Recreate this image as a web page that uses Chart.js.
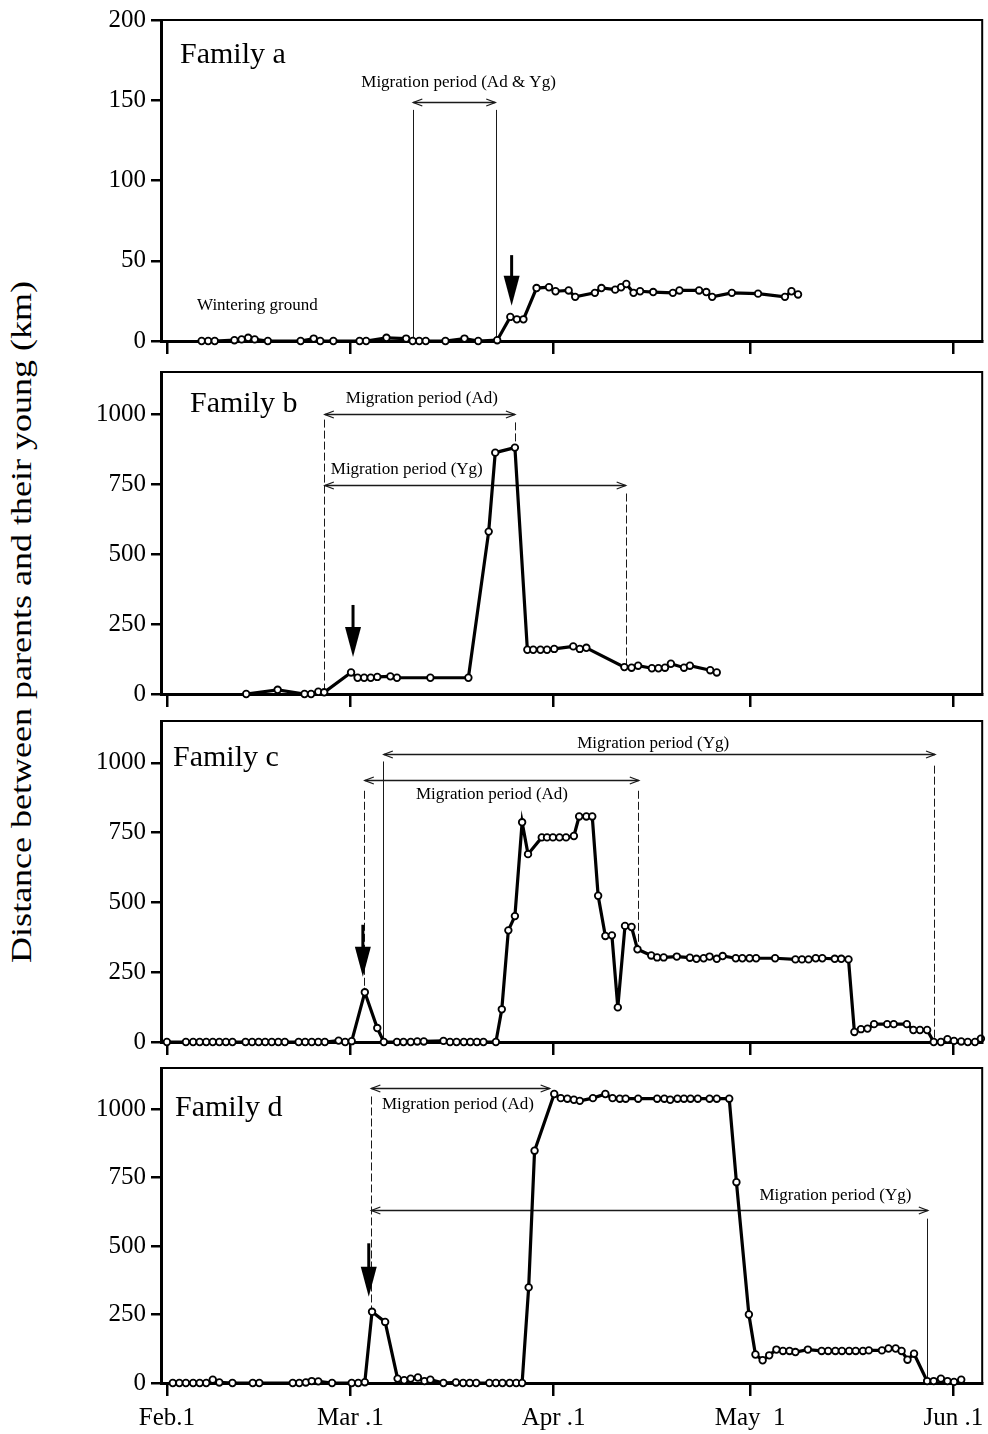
<!DOCTYPE html>
<html>
<head>
<meta charset="utf-8">
<title>Distance between parents and their young</title>
<script src="https://cdn.jsdelivr.net/npm/chart.js@4.4.1/dist/chart.umd.min.js"></script>
<style>
html, body { margin: 0; padding: 0; background: #fff; }
#page { position: relative; width: 988px; height: 1434px; overflow: hidden; background: #fff; }
#page canvas { position: absolute; left: 0; }
#ytitle {
	position: absolute; left: 21px; top: 622px;
	font-family: "Liberation Serif", "Times New Roman", serif; font-size: 30px; line-height: 1;
	white-space: nowrap; color: #000;
	transform: translate(-50%, -50%) rotate(-90deg) scaleX(1.2);
}
</style>
</head>
<body>
<div id="page">
	<div id="ytitle">Distance between parents and their young (km)</div>
	<canvas id="famA" width="988" height="370" style="top:0px"></canvas>
	<canvas id="famB" width="988" height="370" style="top:350px"></canvas>
	<canvas id="famC" width="988" height="370" style="top:700px"></canvas>
	<canvas id="famD" width="988" height="388" style="top:1046px"></canvas>
</div>
<script>
(function () {

// x values are days counted from Feb.1 (Mar.1 = 28, Apr.1 = 59, May 1 = 89, Jun.1 = 120)
var monthDays = [0, 28, 59, 89, 120];
var monthLabels = ['Feb.1', 'Mar .1', 'Apr .1', 'May  1', 'Jun .1'];

var ticksA = [0, 50, 100, 150, 200];
var ticksBCD = [0, 250, 500, 750, 1000];

var familyNames = ['Family a', 'Family b', 'Family c', 'Family d'];

// Family a
var daysA = [5.3, 6.3, 7.3, 10.3, 11.4, 12.4, 13.4, 15.4, 20.4, 22.4, 23.4, 25.4, 29.4, 30.4,
	33.5, 36.5, 37.5, 38.5, 39.5, 42.5, 45.4, 47.5, 50.4, 52.4, 53.4, 54.4, 56.4, 58.3, 59.3,
	61.3, 62.3, 65.3, 66.3, 68.4, 69.3, 70.1, 71.2, 72.2, 74.2, 77.2, 78.2, 81.2, 82.3, 83.2,
	86.2, 90.2, 94.3, 95.3, 96.3];
var distA = [0, 0, 0, 0.5, 1, 2, 1, 0, 0, 1.5, 0, 0, 0, 0,
	2, 1.5, 0, 0, 0, 0, 1.5, 0, 0.5, 15, 13.5, 13.5, 33, 33.5, 31,
	31.5, 27.5, 30, 33, 32, 33.5, 35.5, 30, 31, 30.5, 30, 31.5, 31.5, 30.5, 27.5,
	30, 29.5, 27.5, 31, 29];

// Family b
var daysB = [12.1, 16.9, 21.0, 22.0, 23.1, 24.0, 28.1, 29.1, 30.1, 31.1, 32.1, 34.1, 35.1,
	40.2, 46.0, 49.1, 50.1, 53.1, 55.0, 55.9, 57.0, 58.0, 59.1, 62.0, 63.0, 64.0, 69.8, 70.9,
	71.9, 74.0, 75.0, 76.0, 76.9, 78.9, 79.8, 82.9, 83.9];
var distB = [0, 15, 0, 0, 8, 6, 77, 58, 58, 58, 61, 63, 58,
	58, 58, 580, 862, 880, 158, 158, 158, 158, 161, 170, 161, 165, 96, 94,
	101, 92, 92, 94, 108, 94, 101, 85, 77];

// Family c
var daysC = [0, 2.9, 4.0, 5.0, 6.0, 7.0, 8.0, 9.0, 10.0, 12.0, 13.0, 14.0, 15.0, 16.0, 17.0,
	18.0, 20.1, 21.1, 22.1, 23.1, 24.1, 26.2, 27.2, 28.2, 30.2, 32.1, 33.1, 35.1, 36.1, 37.2,
	38.2, 39.2, 42.2, 43.2, 44.2, 45.3, 46.3, 47.3, 48.3, 50.2, 51.1, 52.1, 53.1, 54.2, 55.1,
	57.2, 58.0, 58.9, 59.9, 60.9, 62.1, 62.9, 64.0, 64.9, 65.8, 66.9, 67.9, 68.8, 69.9, 70.9,
	71.8, 73.9, 74.8, 75.8, 77.8, 79.8, 80.8, 81.9, 82.8, 83.9, 84.8, 86.8, 87.8, 88.9, 89.9,
	92.8, 95.9, 96.9, 97.9, 99.0, 100.0, 101.9, 102.9, 104.0, 104.9, 105.9, 106.9, 107.9, 109.9,
	110.9, 112.9, 113.9, 114.9, 116.0, 117.0, 118.1, 119.1, 120.1, 121.2, 122.2, 123.3, 124.2];
var distC = [0, 0, 0, 0, 0, 0, 0, 0, 0, 0, 0, 0, 0, 0, 0,
	0, 0, 0, 0, 0, 0, 5, 0, 3, 178, 50, 0, 0, 0, 0,
	2, 2, 4, 0, 0, 0, 0, 0, 0, 0, 117, 400, 451, 787, 673,
	733, 733, 733, 733, 733, 738, 808, 808, 808, 524, 380, 382, 124, 416, 412,
	332, 310, 303, 303, 306, 302, 298, 300, 306, 298, 308, 300, 300, 300, 300,
	300, 296, 296, 296, 300, 300, 298, 298, 296, 36, 46, 48, 64, 64,
	64, 64, 43, 43, 43, 0, 0, 10, 4, 2, 0, 0, 12];

// Family d
var daysD = [0.9, 1.9, 2.9, 4.0, 5.0, 6.0, 7.0, 8.0, 10.0, 13.1, 14.1, 19.2, 20.2, 21.2, 22.1,
	23.1, 25.2, 28.2, 29.2, 30.2, 31.3, 33.3, 35.2, 36.2, 37.2, 38.3, 39.3, 40.2, 42.2, 44.1,
	45.2, 46.2, 47.2, 49.2, 50.2, 51.2, 52.3, 53.3, 54.2, 55.2, 56.1, 59.1, 60.1, 61.1, 62.1,
	63.0, 65.0, 66.9, 68.0, 69.1, 70.0, 71.9, 74.8, 75.9, 76.8, 77.9, 78.9, 79.9, 81.0, 82.8,
	83.9, 85.8, 86.9, 88.8, 89.8, 90.9, 91.9, 93.0, 94.0, 95.0, 95.9, 97.8, 99.9, 100.9, 102.0,
	103.0, 104.1, 105.1, 106.2, 107.1, 109.1, 110.1, 111.2, 112.1, 113.0, 114.0, 116.0, 117.0, 118.1,
	119.1, 120.1, 121.2];
var distD = [0, 0, 0, 0, 0, 0, 12, 2, 0, 0, 0, 0, 0, 2, 7,
	6, 0, 0, 0, 3, 260, 223, 16, 10, 16, 20, 7, 12, 0, 2,
	0, 0, 0, 0, 0, 0, 0, 0, 0, 349, 848, 1055, 1040, 1038, 1034,
	1030, 1040, 1055, 1040, 1038, 1038, 1038, 1038, 1038, 1034, 1038, 1038, 1038, 1038, 1038,
	1038, 1038, 733, 250, 104, 83, 101, 122, 117, 117, 113, 122, 117, 117, 117,
	117, 117, 117, 117, 119, 119, 126, 126, 117, 85, 107, 7, 7, 16,
	7, 4, 12];

// notes drawn in data units: guide lines, migration spans, labels, black pointer
var notesA = {
	guides: [{x: 37.5, from: 144, to: 0}, {x: 50.2, from: 144, to: 0}],
	spans: [{from: 37.6, to: 50.1, y: 149}],
	labels: [{text: 'Migration period (Ad & Yg)', x: 44.5, y: 161}, {text: 'Wintering ground', x: 13.8, y: 22}],
	pointer: {x: 52.6, from: 53.5, to: 22}
};
var notesB = {
	guides: [{x: 24.0, from: 980, to: 0, dash: true}, {x: 53.1, from: 970, to: 880, dash: true},
		{x: 70.0, from: 716, to: 97, dash: true}],
	spans: [{from: 24.1, to: 53.1, y: 1001}, {from: 24.1, to: 70.0, y: 748}],
	labels: [{text: 'Migration period (Ad)', x: 38.9, y: 1055}, {text: 'Migration period (Yg)', x: 36.6, y: 800}],
	pointer: {x: 28.4, from: 318, to: 132}
};
var notesC = {
	guides: [{x: 30.1, from: 900, to: 178, dash: true}, {x: 33.0, from: 1005, to: 0},
		{x: 117.1, from: 990, to: 0, dash: true}, {x: 71.9, from: 900, to: 340, dash: true}],
	spans: [{from: 33.1, to: 117.2, y: 1032}, {from: 30.2, to: 72.0, y: 938}],
	labels: [{text: 'Migration period (Yg)', x: 74.2, y: 1069}, {text: 'Migration period (Ad)', x: 49.6, y: 885}],
	pointer: {x: 29.9, from: 420, to: 234}
};
var notesD = {
	guides: [{x: 31.1, from: 1046, to: 260, dash: true}, {x: 116.0, from: 600, to: 7}],
	spans: [{from: 31.2, to: 58.4, y: 1077}, {from: 31.2, to: 116.1, y: 630}],
	labels: [{text: 'Migration period (Ad)', x: 44.4, y: 1017}, {text: 'Migration period (Yg)', x: 102.0, y: 684}],
	pointer: {x: 30.8, from: 510, to: 315}
};

var FONT = '"Liberation Serif", "Times New Roman", serif';
Chart.defaults.font.family = FONT;
Chart.defaults.color = '#000';

var panels = [
	{id: 'famA', days: daysA, dist: distA, max: 200, ticks: ticksA, notes: notesA, padTop: 20, axisH: 29, labels: false, nameAt: [19, 43]},
	{id: 'famB', days: daysB, dist: distB, max: 1150, ticks: ticksBCD, notes: notesB, padTop: 22, axisH: 26, labels: false, nameAt: [29, 40]},
	{id: 'famC', days: daysC, dist: distC, max: 1150, ticks: ticksBCD, notes: notesC, padTop: 21, axisH: 28, labels: false, nameAt: [12, 45]},
	{id: 'famD', days: daysD, dist: distD, max: 1150, ticks: ticksBCD, notes: notesD, padTop: 22, axisH: 51, labels: true, nameAt: [14, 48]}
];

for (var i = 0; i < panels.length; i++) {
	drawPanel(panels[i], familyNames[i]);
}

function toPoints(days, dist) {
	var list = [];
	for (var i = 0, len = days.length; i < len; i++) {
		list.push({x: days[i], y: dist[i]});
	}
	return list;
}

function line(ctx, x0, y0, x1, y1) {
	ctx.beginPath();
	ctx.moveTo(x0, y0);
	ctx.lineTo(x1, y1);
	ctx.stroke();
}

function openHead(ctx, x, y, dir) {
	ctx.beginPath();
	ctx.moveTo(x + dir * 9, y - 3.5);
	ctx.lineTo(x, y);
	ctx.lineTo(x + dir * 9, y + 3.5);
	ctx.stroke();
}

function notesPlugin(name, nameAt, notes) {
	return {
		id: 'notes',
		beforeDatasetsDraw: function (chart) {
			var ctx = chart.ctx, xs = chart.scales.x, ys = chart.scales.y;
			ctx.save();
			ctx.strokeStyle = '#1a1a1a';
			ctx.lineWidth = 1;
			notes.guides.forEach(function (g) {
				var px = Math.round(xs.getPixelForValue(g.x)) + 0.5;
				ctx.setLineDash(g.dash ? [8, 3] : []);
				line(ctx, px, ys.getPixelForValue(g.from), px, ys.getPixelForValue(g.to));
			});
			ctx.setLineDash([]);
			ctx.lineWidth = 1.3;
			notes.spans.forEach(function (s) {
				var y = Math.round(ys.getPixelForValue(s.y)) + 0.5;
				var x0 = xs.getPixelForValue(s.from), x1 = xs.getPixelForValue(s.to);
				line(ctx, x0, y, x1, y);
				openHead(ctx, x0, y, 1);
				openHead(ctx, x1, y, -1);
			});
			ctx.fillStyle = '#000';
			ctx.font = '17px ' + FONT;
			ctx.textAlign = 'center';
			ctx.textBaseline = 'middle';
			notes.labels.forEach(function (l) {
				ctx.fillText(l.text, xs.getPixelForValue(l.x), ys.getPixelForValue(l.y));
			});
			ctx.restore();
		},
		afterDatasetsDraw: function (chart) {
			var ctx = chart.ctx, area = chart.chartArea, xs = chart.scales.x, ys = chart.scales.y;
			var p = notes.pointer;
			var px = xs.getPixelForValue(p.x);
			var top = ys.getPixelForValue(p.from), tip = ys.getPixelForValue(p.to);
			ctx.save();
			ctx.strokeStyle = '#000';
			ctx.fillStyle = '#000';
			ctx.lineWidth = 3;
			line(ctx, px, top, px, tip - 20);
			ctx.beginPath();
			ctx.moveTo(px - 8, tip - 30);
			ctx.lineTo(px + 8, tip - 30);
			ctx.lineTo(px, tip);
			ctx.closePath();
			ctx.fill();
			// top and right sides of the frame
			ctx.lineWidth = 2;
			ctx.beginPath();
			ctx.moveTo(area.left, area.top);
			ctx.lineTo(area.right, area.top);
			ctx.lineTo(area.right, area.bottom);
			ctx.stroke();
			ctx.font = '30px ' + FONT;
			ctx.textAlign = 'left';
			ctx.textBaseline = 'alphabetic';
			ctx.fillText(name, area.left + nameAt[0], area.top + nameAt[1]);
			ctx.restore();
		}
	};
}

function drawPanel(panel, name) {
	var canvas = document.getElementById(panel.id);
	new Chart(canvas, {
		type: 'line',
		data: {
			datasets: [{
				data: toPoints(panel.days, panel.dist),
				borderColor: '#000',
				borderWidth: 3.2,
				pointRadius: 3.3,
				pointBorderWidth: 1.8,
				pointBackgroundColor: '#fff',
				pointBorderColor: '#000',
				tension: 0,
				clip: false
			}]
		},
		options: {
			responsive: false,
			animation: false,
			devicePixelRatio: 1,
			events: [],
			layout: {padding: {top: panel.padTop, right: 2, left: 0, bottom: 0}},
			plugins: {legend: {display: false}, tooltip: {enabled: false}},
			scales: {
				x: {
					type: 'linear',
					min: -0.9,
					max: 124.4,
					afterBuildTicks: function (s) {
						s.ticks = monthDays.map(function (v) { return {value: v}; });
					},
					afterFit: function (s) {
						s.height = panel.axisH;
						s.paddingLeft = 0;
						s.paddingRight = 0;
					},
					grid: {drawOnChartArea: false, drawTicks: true, tickLength: 13, lineWidth: 2.5, color: '#000'},
					border: {display: true, color: '#000', width: 3},
					ticks: {
						display: panel.labels,
						padding: 7,
						maxRotation: 0,
						autoSkip: false,
						color: '#000',
						font: {size: 25},
						callback: function (v, idx) { return monthLabels[idx]; }
					}
				},
				y: {
					min: 0,
					max: panel.max,
					afterBuildTicks: function (s) {
						s.ticks = panel.ticks.map(function (v) { return {value: v}; });
					},
					afterFit: function (s) {
						s.width = 161;
						s.paddingTop = 0;
						s.paddingBottom = 0;
					},
					grid: {drawOnChartArea: false, drawTicks: true, tickLength: 10, lineWidth: 2.5, color: '#000'},
					border: {display: true, color: '#000', width: 3},
					ticks: {
						padding: 5,
						color: '#000',
						font: {size: 25},
						callback: function (v) { return String(v); }
					}
				}
			}
		},
		plugins: [notesPlugin(name, panel.nameAt, panel.notes)]
	});
}

}());
</script>
</body>
</html>
